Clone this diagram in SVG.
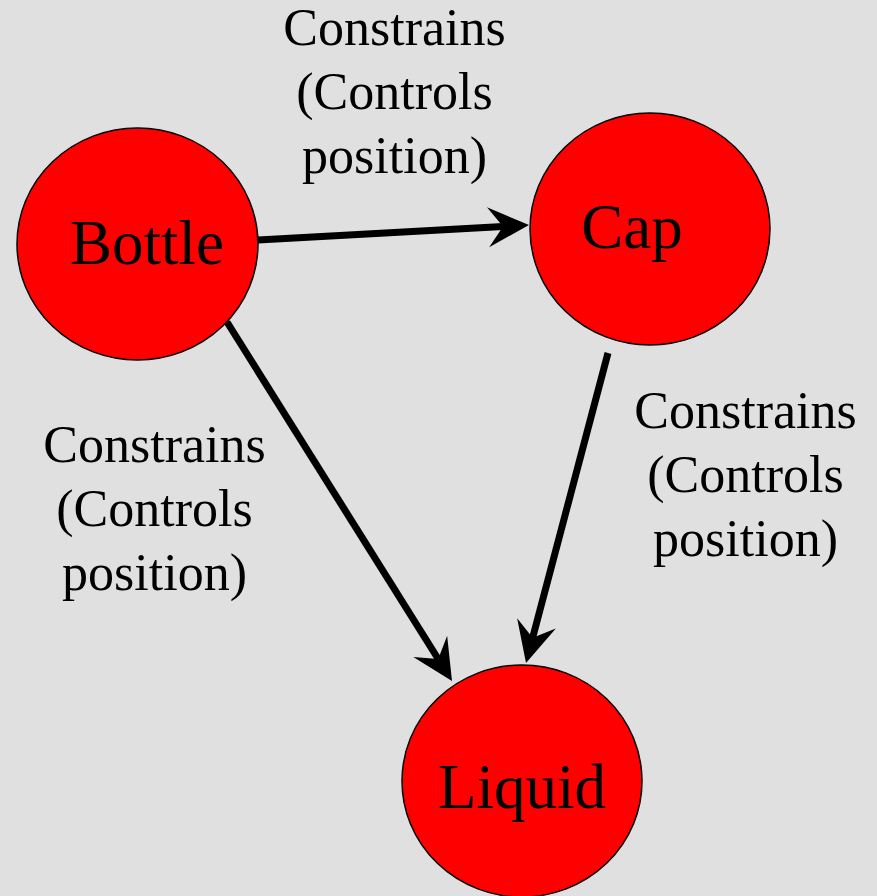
<svg xmlns="http://www.w3.org/2000/svg" width="877" height="896" viewBox="0 0 877 896">
<defs>
<style>
.node ellipse{fill:#ff0000;stroke:#000;stroke-width:1.5}
.node text{font-size:63px;fill:#000;text-anchor:middle}
.lbl{font-size:52px;fill:#000;text-anchor:middle}
.edge line{stroke:#000;stroke-width:7}
.edge path{fill:#000}
</style>
</defs>
<rect width="877" height="896" fill="#e0e0e0"/>
<g font-family="'Liberation Serif', 'Times New Roman', 'DejaVu Serif', serif">
<g id="bottle" class="node">
<ellipse cx="137.5" cy="244" rx="120.5" ry="116"/>
<text x="147" y="264">Bottle</text>
</g>
<g id="cap" class="node">
<ellipse cx="650" cy="229" rx="120" ry="116"/>
<text x="632" y="248">Cap</text>
</g>
<g id="liquid" class="node">
<ellipse cx="522" cy="781" rx="120" ry="116"/>
<text x="522" y="808">Liquid</text>
</g>
<g id="connectors">
<g class="edge" id="e-bottle-cap">
<line x1="258" y1="240" x2="503" y2="226.4"/>
<path transform="translate(529 225) rotate(-3.17)" d="M0,0 L-41,-20 L-26,0 L-41,20 Z"/>
</g>
<g class="edge" id="e-bottle-liquid">
<line x1="227" y1="322" x2="438.2" y2="659"/>
<path transform="translate(452 681) rotate(57.9)" d="M0,0 L-41,-20 L-26,0 L-41,20 Z"/>
</g>
<g class="edge" id="e-cap-liquid">
<line x1="608" y1="353" x2="532.6" y2="637.9"/>
<path transform="translate(526 663) rotate(104.8)" d="M0,0 L-41,-20 L-26,0 L-41,20 Z"/>
</g>
</g>
<g id="labels">
<text class="lbl" x="394.5" y="45">Constrains<tspan x="394.5" y="109">(Controls</tspan><tspan x="394.5" y="173">position)</tspan></text>
<text class="lbl" x="154.5" y="462">Constrains<tspan x="154.5" y="526">(Controls</tspan><tspan x="154.5" y="590">position)</tspan></text>
<text class="lbl" x="745.5" y="428">Constrains<tspan x="745.5" y="492">(Controls</tspan><tspan x="745.5" y="556">position)</tspan></text>
</g>
</g>
</svg>
